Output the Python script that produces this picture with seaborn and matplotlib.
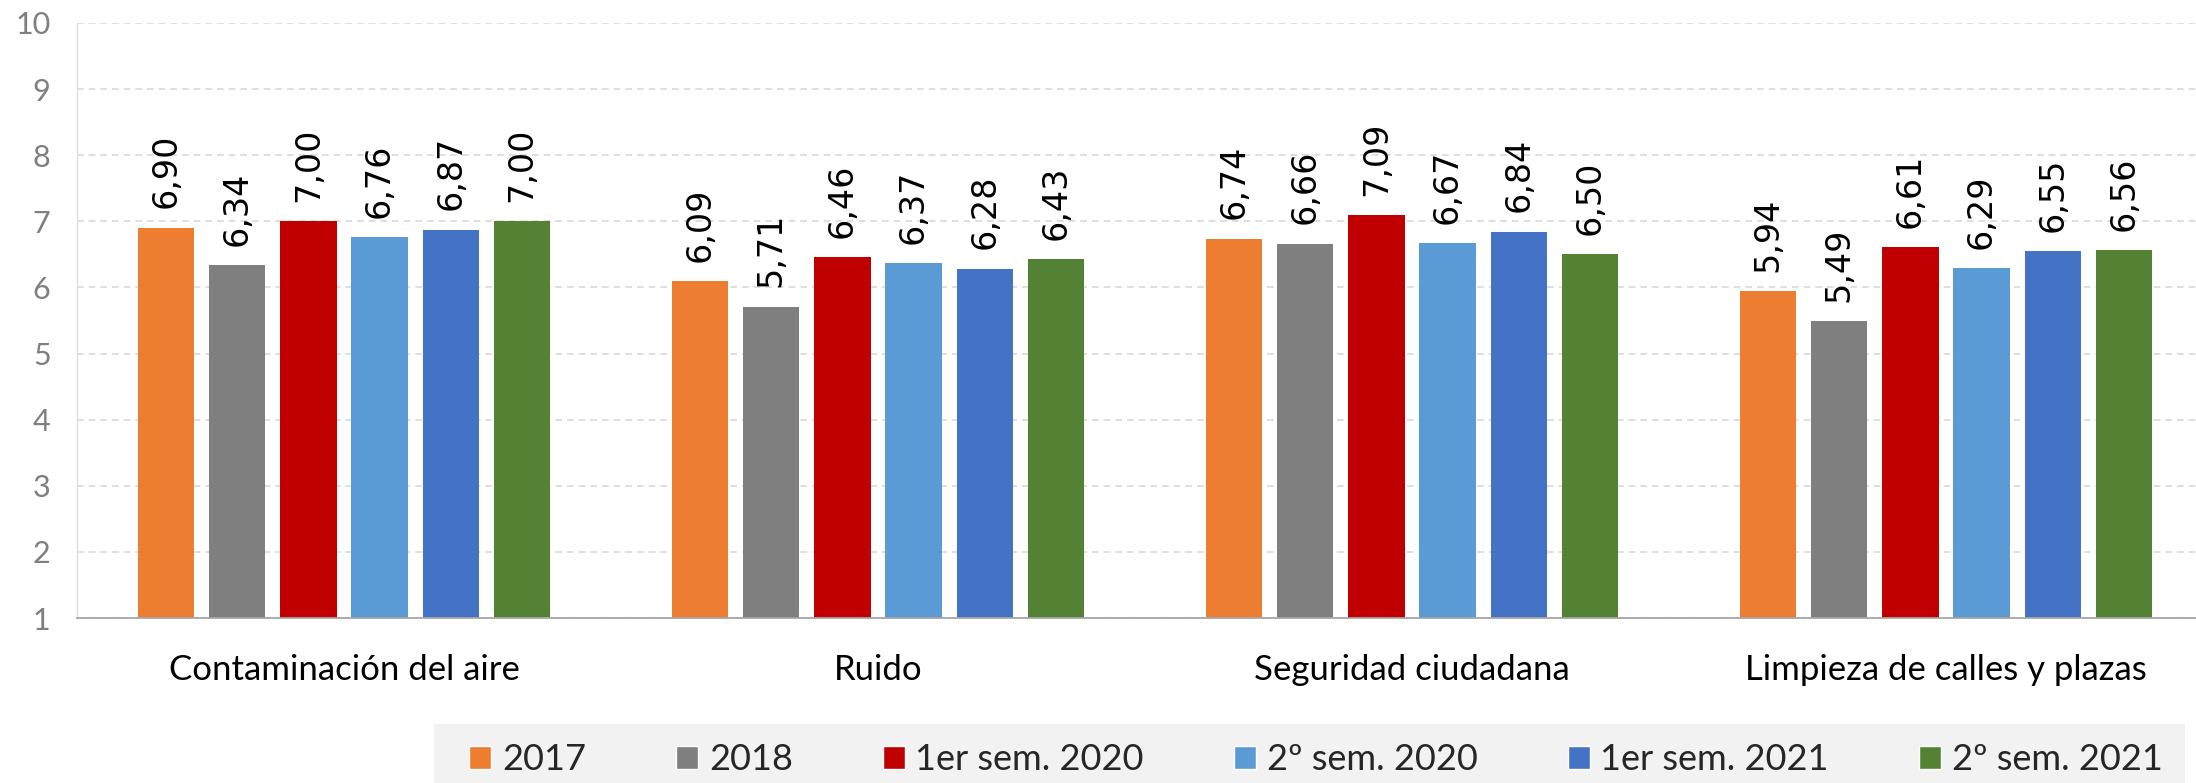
import pandas as pd
import matplotlib.pyplot as plt
import seaborn as sns
from matplotlib.patches import Rectangle

# Chart data
categories = ["Contaminación del aire", "Ruido", "Seguridad ciudadana", "Limpieza de calles y plazas"]
periods = ["2017", "2018", "1er sem. 2020", "2º sem. 2020", "1er sem. 2021", "2º sem. 2021"]
v2017 = [6.90, 6.09, 6.74, 5.94]
v2018 = [6.34, 5.71, 6.66, 5.49]
v1s2020 = [7.00, 6.46, 7.09, 6.61]
v2s2020 = [6.76, 6.37, 6.67, 6.29]
v1s2021 = [6.87, 6.28, 6.84, 6.55]
v2s2021 = [7.00, 6.43, 6.50, 6.56]
colors = ["#ED7D31", "#7F7F7F", "#C00000", "#5B9BD5", "#4472C4", "#548235"]

series = [v2017, v2018, v1s2020, v2s2020, v1s2021, v2s2021]
rows = []
for period, vals in zip(periods, series):
    for cat, v in zip(categories, vals):
        rows.append({"categoria": cat, "periodo": period, "valor": v})
df = pd.DataFrame(rows)

sns.set_style("white")
plt.rcParams["font.family"] = ["Lato", "DejaVu Sans"]

fig = plt.figure(figsize=(21.96, 7.83), dpi=100)
ax = fig.add_axes([77 / 2196, 165 / 783, 2136 / 2196, 595 / 783])

sns.barplot(
    data=df, x="categoria", y="valor", hue="periodo",
    order=categories, hue_order=periods, palette=colors, saturation=1,
    width=0.8, gap=0.21, linewidth=0, legend=False, ax=ax
)

# value labels, rotated, with comma decimals
for cont, vals in zip(ax.containers, series):
    ax.bar_label(cont, labels=[f"{v:.2f}".replace(".", ",") for v in vals],
                 rotation=90, padding=14, fontsize=24, family="DejaVu Sans", color="black")

ax.set_ylim(1, 10)
ax.set_xlim(-0.5, 3.5)
ax.set_yticks(range(1, 11))
ax.grid(axis="y", linestyle=(0, (4, 3)), color="#d9d9d9", linewidth=1.2)
ax.set_axisbelow(True)
ax.set_xlabel("")
ax.set_ylabel("")

ax.tick_params(axis="y", labelsize=22, labelcolor="#7f7f7f", length=7, color="#d9d9d9", pad=12)
ax.tick_params(axis="x", which="major", length=0, labelsize=25, pad=26, labelcolor="black")
ax.set_xticks([-0.5, 0.5, 1.5, 2.5, 3.5], minor=True)
ax.tick_params(axis="x", which="minor", length=8, color="#a6a6a6", width=1.2)

for s in ["top", "right"]:
    ax.spines[s].set_visible(False)
ax.spines["left"].set_color("#d9d9d9")
ax.spines["bottom"].set_color("#a6a6a6")
ax.spines["bottom"].set_linewidth(1.3)

# legend on a light grey band at the bottom
fig.patches.append(Rectangle((434 / 2196, 0), (2185 - 434) / 2196, 59 / 783,
                             transform=fig.transFigure, facecolor="#f2f2f2",
                             edgecolor="none", zorder=0))
handles = [Rectangle((0, 0), 1, 1, facecolor=c) for c in colors]
fig.legend(handles, periods, loc="center", bbox_to_anchor=((482 + 2150) / 2 / 2196, 23 / 783),
           ncol=6, frameon=False, fontsize=26, handlelength=0.6, handleheight=0.6,
           handletextpad=0.3, columnspacing=2.5, borderpad=0)

fig.savefig("out.png", dpi=100)
